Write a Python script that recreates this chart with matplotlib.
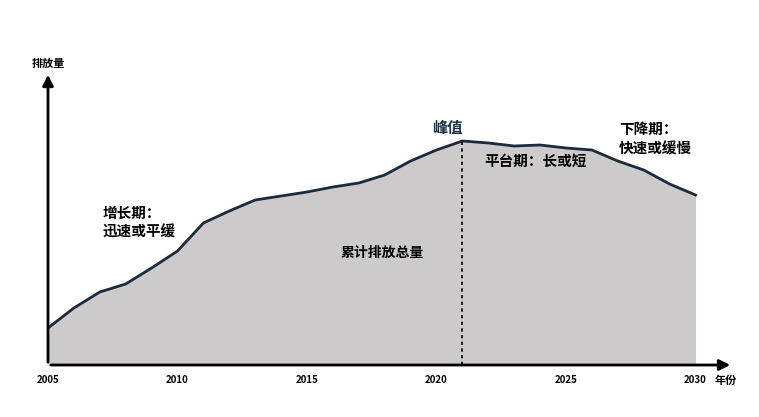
import matplotlib.pyplot as plt

plt.rcParams['font.family'] = ['Noto Sans CJK SC', 'DejaVu Sans']

years = list(range(2005, 2031))
emissions = [37, 57, 73, 81, 97, 114, 142, 154, 165, 169, 173, 178, 182,
             190, 204, 215, 224, 222, 219, 220, 217, 215, 204, 195, 181, 170]
tick_years = [2005, 2010, 2015, 2020, 2025, 2030]
peak_year = 2021

fig = plt.figure(figsize=(7.59, 4.17), dpi=100)
ax = fig.add_axes([48 / 759, 52 / 417, (733 - 48) / 759, (365 - 72) / 417])
ax.set_xlim(2005, 2005 + (733 - 48) / 25.9)
ax.set_ylim(0, 293)

ax.fill_between(years, 0, emissions, color='#cdcacb', lw=0)
ax.plot(years, emissions, color='#1b2b3c', lw=2)
ax.vlines(peak_year, 0, emissions[years.index(peak_year)], colors='black',
          linestyles=(0, (2, 2)), lw=1.2)

for s in ax.spines.values():
    s.set_visible(False)
ax.set_xticks([])
ax.set_yticks([])

# axes arrows
ax.annotate('', xy=(1, 0), xytext=(0, 0), xycoords='axes fraction',
            arrowprops=dict(arrowstyle='-|>', color='black', lw=2, mutation_scale=16))
ax.annotate('', xy=(0, 1), xytext=(0, 0), xycoords='axes fraction',
            arrowprops=dict(arrowstyle='-|>', color='black', lw=2, mutation_scale=16))

w = 'heavy'
for y in tick_years:
    ax.text(y, -15, str(y), ha='center', va='center', fontsize=7, fontweight=w)
ax.text(2005 + (726 - 48) / 25.9, -15, '年份', ha='center', va='center',
        fontsize=8, fontweight=w)
ax.text(2005, 302, '排放量', ha='center', va='center', fontsize=8, fontweight=w)

ax.text(2005 + (447 - 48) / 25.9, 237, '峰值', ha='center', va='center',
        fontsize=11, fontweight=w, color='#1b3346')
ax.text(2005 + (103 - 48) / 25.9, 143, '增长期：\n迅速或平缓', ha='left', va='center',
        fontsize=10.5, fontweight=w, linespacing=1.25)
ax.text(2005 + (382 - 48) / 25.9, 112, '累计排放总量', ha='center', va='center',
        fontsize=10, fontweight=w)
ax.text(2005 + (484 - 48) / 25.9, 204, '平台期：长或短', ha='left', va='center',
        fontsize=10.5, fontweight=w)
ax.text(2005 + (619 - 48) / 25.9, 226, '下降期：\n快速或缓慢', ha='left', va='center',
        fontsize=10.5, fontweight=w, linespacing=1.25)

fig.savefig('out.png', dpi=100)
